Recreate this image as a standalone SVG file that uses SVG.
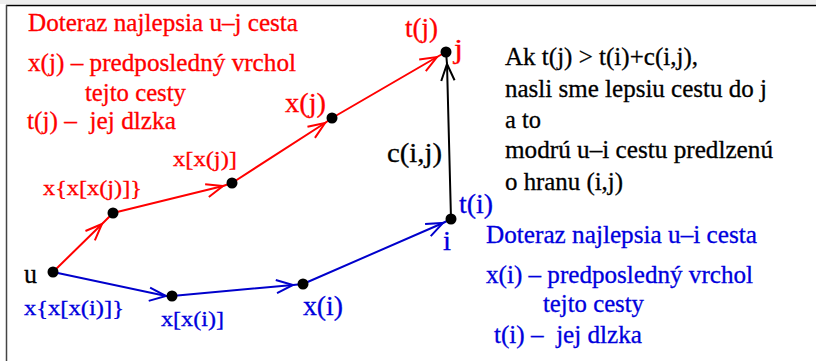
<svg xmlns="http://www.w3.org/2000/svg" width="816" height="361" viewBox="0 0 816 361">
<defs>
<style>
.r{fill:#ff0000;stroke:#ff0000;stroke-width:0.3}.b{fill:#0000dd;stroke:#0000dd;stroke-width:0.3}.k{fill:#000;stroke:#000;stroke-width:0.3}
.e{fill:none;stroke-width:2}
.er{stroke:#ff0000}.eb{stroke:#0000cc}.ek{stroke:#000}
.n{fill:#000}
</style>
<marker id="ar" markerUnits="userSpaceOnUse" markerWidth="20" markerHeight="20" viewBox="-16 -8 18 16" refX="0" refY="0" orient="auto"><path d="M-15,-6 L0,0 L-15,6" fill="none" stroke="#ff0000" stroke-width="1.8"/></marker>
<marker id="ab" markerUnits="userSpaceOnUse" markerWidth="20" markerHeight="20" viewBox="-16 -8 18 16" refX="0" refY="0" orient="auto"><path d="M-15,-6 L0,0 L-15,6" fill="none" stroke="#0000cc" stroke-width="1.8"/></marker>
<marker id="ak" markerUnits="userSpaceOnUse" markerWidth="20" markerHeight="20" viewBox="-16 -8 18 16" refX="0" refY="0" orient="auto"><path d="M-15,-6 L0,0 L-15,6" fill="none" stroke="#000" stroke-width="1.8"/></marker>
</defs>
<rect x="0" y="0" width="816" height="361" fill="#ffffff"/>
<rect x="0" y="0" width="816" height="4" fill="#eeeeee"/>
<line x1="6" y1="5.5" x2="816" y2="5.5" stroke="#000" stroke-width="1.5"/>
<line x1="6.5" y1="5" x2="6.5" y2="361" stroke="#444" stroke-width="1.5"/>

<g id="connectors">
<polyline class="e er" points="53,272 102,224 113,213" marker-mid="url(#ar)"/>
<polyline class="e er" points="113,213 223,186 232,183" marker-mid="url(#ar)"/>
<polyline class="e er" points="232,183 325,123 332,118" marker-mid="url(#ar)"/>
<polyline class="e er" points="332,118 437,57 446,52" marker-mid="url(#ar)"/>
<polyline class="e ek" points="451,219 447,64 446,52" marker-mid="url(#ak)"/>
<polyline class="e eb" points="53,272 166,296 172,296" marker-mid="url(#ab)"/>
<polyline class="e eb" points="172,296 293,285 303,284" marker-mid="url(#ab)"/>
<polyline class="e eb" points="303,284 443,223 451,219" marker-mid="url(#ab)"/>
</g>

<g font-family="Liberation Serif, Times New Roman, serif">
<g id="node-u"><circle class="n" cx="53" cy="272" r="5.5"/><text class="k" font-size="28" x="24" y="283" textLength="13" lengthAdjust="spacingAndGlyphs">u</text></g>
<g id="node-xxxj"><circle class="n" cx="113" cy="213" r="5.5"/><text class="r" font-size="22" x="43" y="195" textLength="99" lengthAdjust="spacingAndGlyphs">x{x[x(j)]}</text></g>
<g id="node-xxj"><circle class="n" cx="232" cy="183" r="5.5"/><text class="r" font-size="22" x="173" y="166" textLength="64" lengthAdjust="spacingAndGlyphs">x[x(j)]</text></g>
<g id="node-xj"><circle class="n" cx="332" cy="118" r="5.5"/><text class="r" font-size="27" x="285" y="112" textLength="41" lengthAdjust="spacingAndGlyphs">x(j)</text></g>
<g id="node-j"><circle class="n" cx="446" cy="52" r="5.5"/><text class="r" font-size="27" x="405" y="37" textLength="33" lengthAdjust="spacingAndGlyphs">t(j)</text><text class="r" font-size="27" x="454" y="58" textLength="9" lengthAdjust="spacingAndGlyphs">j</text></g>
<g id="node-i"><circle class="n" cx="451" cy="219" r="5.5"/><text class="b" font-size="27" x="459" y="213" textLength="34" lengthAdjust="spacingAndGlyphs">t(i)</text><text class="b" font-size="27" x="443" y="250" textLength="8" lengthAdjust="spacingAndGlyphs">i</text></g>
<g id="node-xxi"><circle class="n" cx="172" cy="296" r="5.5"/><text class="b" font-size="22" x="161" y="326" textLength="63" lengthAdjust="spacingAndGlyphs">x[x(i)]</text></g>
<g id="node-xi"><circle class="n" cx="303" cy="284" r="5.5"/><text class="b" font-size="27" x="303" y="315" textLength="40" lengthAdjust="spacingAndGlyphs">x(i)</text></g>
<g id="label-xxxi"><text class="b" font-size="22" x="24" y="315" textLength="100" lengthAdjust="spacingAndGlyphs">x{x[x(i)]}</text></g>
<g id="label-cij"><text class="k" font-size="27" x="387" y="162" textLength="55" lengthAdjust="spacingAndGlyphs">c(i,j)</text></g>

<g id="red-legend" font-size="25">
<text class="r" x="28" y="31" textLength="270" lengthAdjust="spacingAndGlyphs">Doteraz najlepsia u–j cesta</text>
<text class="r" x="28" y="71" textLength="268" lengthAdjust="spacingAndGlyphs">x(j) – predposledný vrchol</text>
<text class="r" x="85" y="101" textLength="101" lengthAdjust="spacingAndGlyphs">tejto cesty</text>
<text class="r" x="27" y="129" textLength="149" lengthAdjust="spacingAndGlyphs" xml:space="preserve">t(j) –  jej dlzka</text>
</g>

<g id="black-note" font-size="25">
<text class="k" x="505" y="65" textLength="193" lengthAdjust="spacingAndGlyphs">Ak t(j) &gt; t(i)+c(i,j),</text>
<text class="k" x="505" y="97" textLength="262" lengthAdjust="spacingAndGlyphs">nasli sme lepsiu cestu do j</text>
<text class="k" x="505" y="128" textLength="36" lengthAdjust="spacingAndGlyphs">a to</text>
<text class="k" x="505" y="158" textLength="268" lengthAdjust="spacingAndGlyphs">modrú u–i cestu predlzenú</text>
<text class="k" x="505" y="190" textLength="118" lengthAdjust="spacingAndGlyphs">o hranu (i,j)</text>
</g>

<g id="blue-legend" font-size="25">
<text class="b" x="486" y="243" textLength="271" lengthAdjust="spacingAndGlyphs">Doteraz najlepsia u–i cesta</text>
<text class="b" x="486" y="283" textLength="267" lengthAdjust="spacingAndGlyphs">x(i) – predposledný vrchol</text>
<text class="b" x="543" y="312" textLength="101" lengthAdjust="spacingAndGlyphs">tejto cesty</text>
<text class="b" x="494" y="343" textLength="148" lengthAdjust="spacingAndGlyphs" xml:space="preserve">t(i) –  jej dlzka</text>
</g>
</g>
</svg>
